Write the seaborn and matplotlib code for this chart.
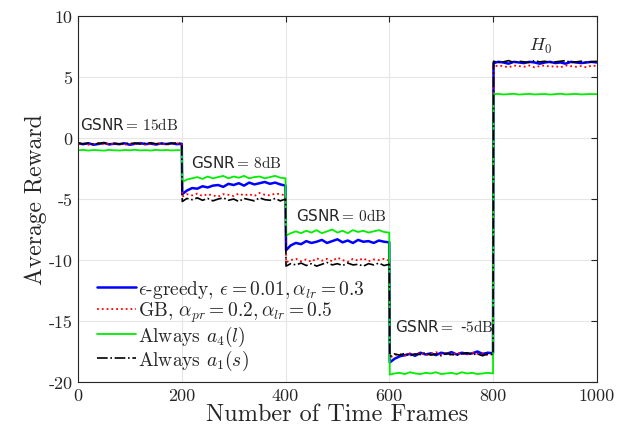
import numpy as np
import pandas as pd
import matplotlib
matplotlib.use("Agg")
import matplotlib.pyplot as plt
import seaborn as sns

# Segment boundaries (time frames) and the per-segment sample offsets
seg_starts = [0, 200, 400, 600, 800]
offsets = [1] + list(range(10, 201, 10))  # 21 samples per segment

# Average reward, per segment (GSNR = 15, 8, 0, -5 dB, then H0)
eps_greedy = [
    [-0.45, -0.5, -0.42, -0.55, -0.48, -0.4, -0.52, -0.46, -0.5, -0.43, -0.55, -0.47, -0.41, -0.5, -0.45, -0.53, -0.44, -0.49, -0.42, -0.5, -0.47],
    [-4.6, -4.3, -4.1, -4.15, -3.95, -4.05, -3.9, -3.85, -4.0, -3.75, -3.85, -3.7, -3.9, -3.65, -3.8, -3.7, -3.6, -3.75, -3.65, -3.8, -3.9],
    [-9.2, -8.8, -8.6, -8.7, -8.45, -8.6, -8.5, -8.35, -8.6, -8.45, -8.3, -8.55, -8.4, -8.6, -8.35, -8.5, -8.45, -8.6, -8.4, -8.5, -8.55],
    [-18.4, -18.1, -17.9, -17.8, -17.7, -17.85, -17.6, -17.75, -17.65, -17.8, -17.6, -17.7, -17.55, -17.75, -17.6, -17.7, -17.65, -17.5, -17.7, -17.6, -17.65],
    [6.15, 6.25, 6.2, 6.1, 6.25, 6.2, 6.15, 6.25, 6.2, 6.1, 6.2, 6.25, 6.15, 6.2, 6.1, 6.25, 6.2, 6.15, 6.2, 6.25, 6.2],
]
gradient_bandit = [
    [-0.5, -0.42, -0.55, -0.47, -0.4, -0.52, -0.45, -0.5, -0.43, -0.56, -0.46, -0.5, -0.41, -0.53, -0.47, -0.5, -0.44, -0.55, -0.46, -0.42, -0.5],
    [-4.8, -4.6, -4.7, -4.55, -4.75, -4.6, -4.7, -4.8, -4.6, -4.65, -4.75, -4.55, -4.7, -4.6, -4.75, -4.5, -4.65, -4.7, -4.55, -4.6, -4.7],
    [-10.2, -10.0, -9.9, -10.1, -9.95, -10.15, -9.85, -10.05, -9.9, -10.1, -9.8, -10.0, -10.15, -9.9, -10.05, -9.85, -10.1, -9.95, -10.0, -9.9, -10.05],
    [-18.0, -17.8, -17.7, -17.85, -17.65, -17.75, -17.6, -17.8, -17.7, -17.55, -17.75, -17.65, -17.8, -17.6, -17.7, -17.75, -17.6, -17.7, -17.65, -17.8, -17.7],
    [5.85, 5.95, 5.9, 5.8, 5.95, 5.9, 5.85, 5.95, 5.8, 5.9, 5.95, 5.85, 5.9, 5.8, 5.95, 5.9, 5.85, 5.9, 5.8, 5.95, 5.9],
]
always_a4 = [
    [-1.0, -0.97, -1.02, -0.98, -1.0, -1.03, -0.97, -1.0, -1.02, -0.98, -1.0, -0.96, -1.01, -0.99, -1.02, -0.97, -1.0, -0.98, -1.01, -0.99, -1.0],
    [-3.6, -3.4, -3.3, -3.2, -3.35, -3.15, -3.3, -3.2, -3.1, -3.3, -3.15, -3.25, -3.1, -3.3, -3.2, -3.15, -3.3, -3.2, -3.1, -3.25, -3.3],
    [-8.0, -7.8, -7.65, -7.8, -7.6, -7.75, -7.55, -7.8, -7.65, -7.5, -7.75, -7.6, -7.8, -7.55, -7.7, -7.6, -7.75, -7.65, -7.55, -7.7, -7.75],
    [-19.4, -19.3, -19.25, -19.35, -19.2, -19.3, -19.35, -19.25, -19.3, -19.2, -19.35, -19.3, -19.25, -19.35, -19.2, -19.3, -19.25, -19.35, -19.3, -19.25, -19.3],
    [3.6, 3.62, 3.58, 3.6, 3.63, 3.57, 3.6, 3.62, 3.58, 3.6, 3.61, 3.57, 3.6, 3.63, 3.58, 3.6, 3.62, 3.58, 3.6, 3.61, 3.6],
]
always_a1 = [
    [-0.4, -0.48, -0.42, -0.5, -0.44, -0.38, -0.47, -0.43, -0.5, -0.41, -0.46, -0.4, -0.49, -0.43, -0.38, -0.47, -0.42, -0.5, -0.44, -0.4, -0.45],
    [-5.2, -4.95, -5.05, -4.9, -5.1, -4.95, -5.15, -5.0, -4.9, -5.1, -5.0, -5.2, -4.95, -5.05, -5.15, -4.9, -5.05, -5.1, -4.95, -5.15, -5.0],
    [-10.5, -10.3, -10.4, -10.25, -10.45, -10.3, -10.5, -10.35, -10.2, -10.4, -10.3, -10.45, -10.25, -10.4, -10.35, -10.5, -10.3, -10.4, -10.25, -10.45, -10.35],
    [-17.9, -17.7, -17.8, -17.65, -17.85, -17.7, -17.75, -17.6, -17.8, -17.7, -17.85, -17.65, -17.75, -17.8, -17.7, -17.6, -17.75, -17.7, -17.85, -17.7, -17.75],
    [6.3, 6.2, 6.25, 6.35, 6.2, 6.3, 6.25, 6.2, 6.35, 6.25, 6.3, 6.2, 6.25, 6.3, 6.35, 6.2, 6.25, 6.3, 6.2, 6.25, 6.3],
]

series_labels = [
    r"$\epsilon$-greedy, $\epsilon=0.01,\alpha_{lr}=0.3$",
    r"GB, $\alpha_{pr}=0.2,\alpha_{lr}=0.5$",
    r"Always $a_4(l)$",
    r"Always $a_1(s)$",
]
series_values = [eps_greedy, gradient_bandit, always_a4, always_a1]
series_colors = ["#0000ff", "#ff0000", "#00ee00", "#000000"]
series_styles = ["-", ":", "-", "-."]
series_widths = [1.8, 1.3, 1.3, 1.2]

segment_texts = [r"GSNR$=\,15\mathrm{dB}$", r"GSNR$=\,8\mathrm{dB}$",
                 r"GSNR$=\,0\mathrm{dB}$", r"GSNR$=$ -$5\mathrm{dB}$", r"$H_0$"]
segment_text_x = [98, 306, 507, 707, 892]
segment_text_y = [1.15, -2.0, -6.3, -15.4, 7.6]

x_ticks = [0, 200, 400, 600, 800, 1000]
y_ticks = [-20, -15, -10, -5, 0, 5, 10]

sns.set_style("whitegrid")
plt.rcParams["mathtext.fontset"] = "cm"
plt.rcParams["font.family"] = ["cmr10", "DejaVu Serif"]
plt.rcParams["axes.unicode_minus"] = False

frames = [s + o for s in seg_starts for o in offsets]
rows = []
for lab, vals in zip(series_labels, series_values):
    flat = [v for seg in vals for v in seg]
    for f, v in zip(frames, flat):
        rows.append({"frame": f, "reward": v, "series": lab})
df = pd.DataFrame(rows)

fig, ax = plt.subplots(figsize=(6.21, 4.39), dpi=100)
fig.subplots_adjust(left=0.1256, right=0.961, top=0.961, bottom=0.1276)

for lab, col, ls, lw in zip(series_labels, series_colors, series_styles, series_widths):
    sub = df[df["series"] == lab]
    sns.lineplot(data=sub, x="frame", y="reward", ax=ax, color=col,
                 linestyle=ls, linewidth=lw, label=lab, estimator=None,
                 sort=False)

ax.set_xlim(0, 1000)
ax.set_ylim(-20, 10)
ax.set_xticks(x_ticks)
ax.set_xticklabels([str(t) for t in x_ticks])
ax.set_yticks(y_ticks)
ax.set_yticklabels([str(t) for t in y_ticks])
ax.tick_params(axis="both", which="both", direction="in", length=4,
               labelsize=13, top=True, right=True, colors="#262626",
               pad=4)
ax.grid(True, color="#e6e6e6", linewidth=0.8)
for sp in ax.spines.values():
    sp.set_color("#262626")
    sp.set_linewidth(0.8)

ax.set_xlabel("Number of Time Frames", fontsize=17.5, labelpad=0)
ax.set_ylabel("Average Reward", fontsize=17, labelpad=1)

for txt, tx, ty in zip(segment_texts, segment_text_x, segment_text_y):
    if txt.startswith("GSNR"):
        ax.text(tx, ty, txt, ha="center", va="center", fontsize=11,
                family=["DejaVu Sans"])
    else:
        ax.text(tx, ty, txt, ha="center", va="center", fontsize=13)

leg = ax.legend(loc="lower left", bbox_to_anchor=(0.018, 0.0), frameon=False,
                fontsize=14, handlelength=2.0, handletextpad=0.1,
                labelspacing=0.0, borderaxespad=0.1)

fig.savefig("out.png", dpi=100)
